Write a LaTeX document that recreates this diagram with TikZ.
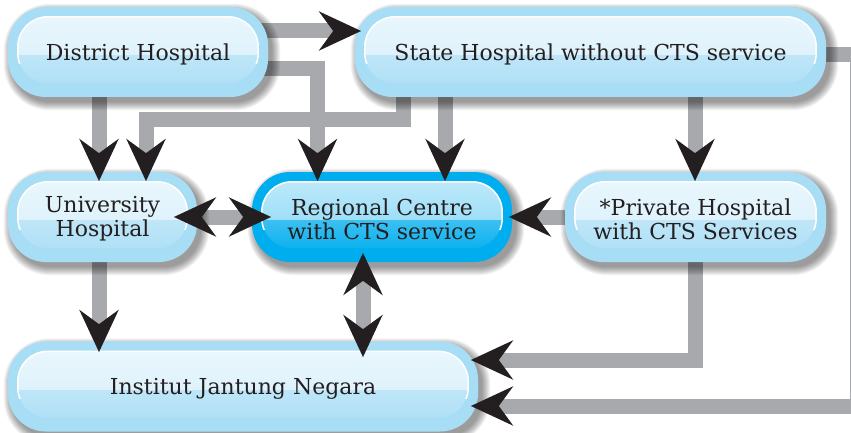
\documentclass[tikz,border=0pt]{standalone}
\usepackage{fontspec}
\setmainfont{DejaVu Serif}
\usetikzlibrary{arrows.meta}
\definecolor{rimlight}{HTML}{A8DDF6}
\definecolor{inlighttop}{HTML}{D3EEFB}
\definecolor{inlightbot}{HTML}{B0E0F6}
\definecolor{rimdark}{HTML}{00AEEF}
\definecolor{indarktop}{HTML}{7CD2F5}
\definecolor{indarkbot}{HTML}{0DB2EF}
\definecolor{bargray}{HTML}{A7A9AC}
\definecolor{tipfill}{HTML}{231F20}
\definecolor{tipedge}{HTML}{4A1C1C}
\definecolor{txt}{HTML}{231F20}
\pgfdeclarelayer{back}
\pgfdeclarelayer{bg}
\pgfdeclarelayer{shad}
\pgfsetlayers{back,bg,shad,main}
\tikzset{
  bigtip/.tip={Stealth[length=44pt,width=41pt,inset=15pt,line width=0.6pt,color=tipedge,fill=tipfill]},
  boxrim/.style={draw=none, fill=#1, rounded corners=38pt, minimum height=90pt, inner sep=0pt},
  boxtext/.style={align=center, text=txt, font=\fontsize{22}{24}\selectfont, inner sep=0pt},
  barone/.style={draw=bargray, line width=15pt, shorten >=25pt},
  bartwo/.style={draw=bargray, line width=15pt, shorten >=25pt, shorten <=25pt},
  tipone/.style={draw=bargray, draw opacity=0, line width=15pt, -{bigtip}},
  tiptwo/.style={draw=bargray, draw opacity=0, line width=15pt, {bigtip}-{bigtip}},
  shadowring/.style={fill=black, opacity=0.05},
}
\newcommand\glossbox[5]{%
  \node[boxrim=rim#2, minimum width=#4pt] (#1) at (#3) {};
  \begin{pgfonlayer}{shad}
    \foreach \s in {8,7,...,0}{%
      \fill[shadowring, rounded corners={38pt+\s*1pt}]
        ([shift={({4pt-\s*1pt},{-5pt+\s*1pt})}]#1.north west) rectangle
        ([shift={({4pt+\s*1pt},{-5pt-\s*1pt})}]#1.south east);}
  \end{pgfonlayer}
  \shade[top color=in#2top, bottom color=in#2bot, rounded corners=30pt]
    ([shift={(10pt,-10pt)}]#1.north west) rectangle ([shift={(-10pt,14pt)}]#1.south east);
  \begin{scope}
    \clip[rounded corners=30pt] ([shift={(10pt,-10pt)}]#1.north west) rectangle ([shift={(-10pt,14pt)}]#1.south east);
    \fill[white, opacity=0.5] ([shift={(10pt,-10pt)}]#1.north west) rectangle ([shift={(-10pt,-3pt)}]#1.east);
  \end{scope}
  \begin{scope}
    \clip (#1.north west) rectangle ([yshift=-12pt]#1.east);
    \draw[white, line width=1.5pt, rounded corners=30pt]
      ([shift={(10pt,-10pt)}]#1.north west) rectangle ([shift={(-10pt,14pt)}]#1.south east);
  \end{scope}
  \node[boxtext] (#1t) at ([yshift=-2pt]#1.center) {#5};
}
\newcommand\link[3]{%
  \begin{pgfonlayer}{bg}\draw[#2] #3;\end{pgfonlayer}
  \draw[#1] #3;}
\begin{document}
\begin{tikzpicture}[x=1pt,y=-1pt]
\useasboundingbox (0,0) rectangle (851,433);
\begin{pgfonlayer}{back}
  \fill[white] (0,0) rectangle (851,433);
\end{pgfonlayer}
\glossbox{dh}{light}{138,52}{260}{District Hospital}
\glossbox{sh}{light}{590.5,52}{471}{State Hospital without CTS service}
\glossbox{uh}{light}{102.5,217}{189}{University\\Hospital}
\glossbox{rc}{dark}{382,217}{260}{Regional Centre\\with CTS service}
\glossbox{ph}{light}{695.5,217}{261}{*Private Hospital\\with CTS Services}
\glossbox{ij}{light}{243,386.5}{470}{Institut Jantung Negara}
\link{tipone}{barone}{([xshift=-10pt,yshift=21pt]dh.east) -- ([xshift=7pt,yshift=21pt]sh.west)}
\link{tipone}{barone}{([xshift=-10pt,yshift=-17pt]dh.east) -| ([xshift=-64.5pt,yshift=-10pt]rc.north)}
\link{tipone}{barone}{([xshift=-39pt,yshift=10pt]dh.south) -- ([xshift=-3.5pt,yshift=-10pt]uh.north)}
\link{tipone}{barone}{([xshift=-187pt,yshift=10pt]sh.south) -- ++(0,32) -| ([xshift=43.5pt,yshift=-10pt]uh.north)}
\link{tipone}{barone}{([xshift=-145.5pt,yshift=10pt]sh.south) -- ([xshift=63pt,yshift=-10pt]rc.north)}
\link{tipone}{barone}{([xshift=104.5pt,yshift=10pt]sh.south) -- ([xshift=-0.5pt,yshift=-10pt]ph.north)}
\link{tipone}{barone}{([xshift=10pt]ph.west) -- ([xshift=-4pt]rc.east)}
\link{tiptwo}{bartwo}{([xshift=-24pt]uh.east) -- ([xshift=20pt]rc.west)}
\link{tiptwo}{bartwo}{([xshift=-19pt,yshift=10pt]rc.south) -- ([xshift=120pt,yshift=-16.5pt]ij.north)}
\link{tipone}{barone}{([xshift=-3.5pt,yshift=10pt]uh.south) -- ([xshift=-144pt,yshift=-11.5pt]ij.north)}
\link{tipone}{barone}{([xshift=-0.5pt,yshift=10pt]ph.south) |- ([xshift=-8pt,yshift=26.5pt]ij.east)}
\link{tipone}{barone}{([xshift=-10pt,yshift=-3pt]sh.east) -- ++(41,0) |- ([xshift=-8pt,yshift=-19.5pt]ij.east)}
\end{tikzpicture}
\end{document}
